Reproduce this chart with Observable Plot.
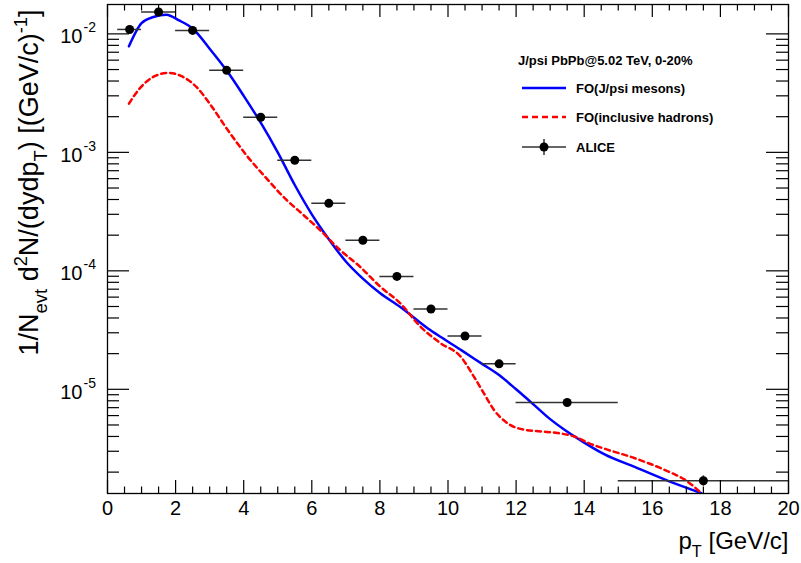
<!DOCTYPE html>
<html><head><meta charset="utf-8">
<script src="https://cdn.jsdelivr.net/npm/d3@7"></script>
<script src="https://cdn.jsdelivr.net/npm/@observablehq/plot@0.6"></script>
<style>body{margin:0;background:#fff} svg{display:block}</style>
</head><body><div id="chart"></div>
<script>
// ALICE J/psi data
const aliceX   = [0.65, 1.5, 2.5, 3.5, 4.5, 5.5, 6.5, 7.5, 8.5, 9.5, 10.5, 11.5, 13.5, 17.5];
const aliceXLo = [0.3, 1, 2, 3, 4, 5, 6, 7, 8, 9, 10, 11, 12, 15];
const aliceXHi = [1.0, 2, 3, 4, 5, 6, 7, 8, 9, 10, 11, 12, 15, 20];
const aliceY   = [0.0109, 0.0153, 0.0107, 0.00492, 0.00198, 8.57e-4, 3.71e-4, 1.81e-4, 8.97e-5, 4.76e-5, 2.82e-5, 1.64e-5, 7.74e-6, 1.69e-6];
const aliceYErr= [3e-4, 3e-4, 2e-4, 1e-4, 4e-5, 2e-5, 1e-5, 5e-6, 3e-6, 1.5e-6, 1e-6, 6e-7, 4e-7, 1.7e-7];

// FO (J/psi mesons)
const foJpsiX = [0.63, 1.0, 1.35, 1.73, 2.1, 2.5, 3.0, 3.5, 4.0, 4.5, 5.0, 5.5, 6.0, 6.5, 7.0, 7.5, 8.0, 8.6, 9.4, 9.8, 10.4, 11.0, 11.5, 12.0, 12.5, 13.0, 13.4, 14.0, 14.6, 15.5, 16.5, 17.44];
const foJpsiY = [7.85e-3, 1.23e-2, 1.387e-2, 1.452e-2, 1.30e-2, 1.11e-2, 7.5e-3, 4.9e-3, 3.0e-3, 1.78e-3, 1.0e-3, 5.3e-4, 3.0e-4, 1.85e-4, 1.2e-4, 8.6e-5, 6.5e-5, 4.95e-5, 3.28e-5, 2.75e-5, 2.13e-5, 1.64e-5, 1.32e-5, 1.0e-5, 7.5e-6, 5.6e-6, 4.6e-6, 3.55e-6, 2.82e-6, 2.2e-6, 1.67e-6, 1.33e-6];

// FO (inclusive hadrons)
const foHadX = [0.63, 0.94, 1.34, 1.78, 2.22, 2.61, 3.0, 3.5, 4.08, 4.67, 5.26, 5.65, 6.24, 6.83, 7.42, 8.01, 8.60, 9.19, 9.78, 10.37, 10.76, 11.05, 11.35, 11.74, 12.23, 12.72, 13.22, 13.71, 14.2, 14.6, 15.47, 16.46, 16.95, 17.44];
const foHadY = [2.58e-3, 3.45e-3, 4.33e-3, 4.68e-3, 4.33e-3, 3.57e-3, 2.58e-3, 1.59e-3, 9.46e-4, 6.03e-4, 3.96e-4, 3.15e-4, 2.21e-4, 1.5e-4, 1.08e-4, 7.35e-5, 5.32e-5, 3.38e-5, 2.45e-5, 1.89e-5, 1.28e-5, 9.3e-6, 6.7e-6, 5.19e-6, 4.56e-6, 4.41e-6, 4.27e-6, 4.0e-6, 3.45e-6, 3.15e-6, 2.63e-6, 2.03e-6, 1.73e-6, 1.33e-6];

// axis ticks
const xMajor = [0, 2, 4, 6, 8, 10, 12, 14, 16, 18, 20];
const xMinor = d3.range(0.5, 20, 0.5).filter(v => v % 2 !== 0);
const yMajor = [1e-5, 1e-4, 1e-3, 1e-2];
const yMinor = [-6, -5, -4, -3, -2].flatMap(e => [2,3,4,5,6,7,8,9].map(k => k * Math.pow(10, e))).filter(v => v > 1.32e-6 && v < 0.0177);

const legendHeader = "J/psi PbPb@5.02 TeV, 0-20%";
const legendLabels = ["FO(J/psi mesons)", "FO(inclusive hadrons)", "ALICE"];
const xTitle = "pT [GeV/c]";
const yTitle = "1/Nevt d2N/(dydpT) [(GeV/c)-1]";

const alice = aliceX.map((x, i) => ({x, xlo: aliceXLo[i], xhi: aliceXHi[i], y: aliceY[i], ylo: aliceY[i] - aliceYErr[i], yhi: aliceY[i] + aliceYErr[i]}));
const foJpsi = foJpsiX.map((x, i) => ({x, y: foJpsiY[i]}));
const foHad = foHadX.map((x, i) => ({x, y: foHadY[i]}));

const W = 801, H = 563, mL = 107, mR = 13, mT = 4, mB = 70;
const pw = W - mL - mR, ph = H - mT - mB;
const FONT = "'Liberation Sans', Arial, Helvetica, sans-serif";

const svg = Plot.plot({
  width: W, height: H,
  marginLeft: mL, marginRight: mR, marginTop: mT, marginBottom: mB,
  style: {fontFamily: FONT, background: "white", overflow: "visible", color: "black"},
  x: {type: "linear", domain: [0, 20], axis: null},
  y: {type: "log", domain: [1.32e-6, 0.0177], axis: null},
  marks: [
    Plot.line(foJpsi, {x: "x", y: "y", stroke: "#0000ff", strokeWidth: 2.5, curve: "monotone-x", clip: true}),
    Plot.line(foHad, {x: "x", y: "y", stroke: "#ff0000", strokeWidth: 2.5, strokeDasharray: "5,4", curve: "monotone-x", clip: true}),
    Plot.ruleY(alice, {y: "y", x1: "xlo", x2: "xhi", stroke: "#333", strokeWidth: 1.5}),
    Plot.ruleX(alice, {x: "x", y1: "ylo", y2: "yhi", stroke: "#333", strokeWidth: 1.5}),
    Plot.dot(alice, {x: "x", y: "y", r: 4.5, fill: "black"}),
    Plot.tickX(xMajor, {x: d => d, insetTop: ph - 13, stroke: "black", strokeWidth: 1.2}),
    Plot.tickX(xMajor, {x: d => d, insetBottom: ph - 13, stroke: "black", strokeWidth: 1.2}),
    Plot.tickX(xMinor, {x: d => d, insetTop: ph - 6.5, stroke: "black", strokeWidth: 1.2}),
    Plot.tickX(xMinor, {x: d => d, insetBottom: ph - 6.5, stroke: "black", strokeWidth: 1.2}),
    Plot.tickY(yMajor, {y: d => d, insetRight: pw - 22, stroke: "black", strokeWidth: 1.2}),
    Plot.tickY(yMajor, {y: d => d, insetLeft: pw - 22, stroke: "black", strokeWidth: 1.2}),
    Plot.tickY(yMinor, {y: d => d, insetRight: pw - 12, stroke: "black", strokeWidth: 1.2}),
    Plot.tickY(yMinor, {y: d => d, insetLeft: pw - 12, stroke: "black", strokeWidth: 1.2}),
    Plot.frame({stroke: "black", strokeWidth: 1.3}),
    Plot.text(xMajor, {x: d => d, text: d => String(d), frameAnchor: "bottom", lineAnchor: "top", dy: 7, fontSize: 20, fill: "black"}),
    Plot.text(yMajor, {y: d => d, text: () => "10", frameAnchor: "left", textAnchor: "end", dx: -25, dy: 3, fontSize: 20, fill: "black"}),
    Plot.text(yMajor, {y: d => d, text: d => String(Math.round(Math.log10(d))), frameAnchor: "left", textAnchor: "start", dx: -24, dy: -6, fontSize: 14, fill: "black"}),
    Plot.text([xTitle], {frameAnchor: "bottom-right", textAnchor: "end", lineAnchor: "middle", dy: 48, fontSize: 24, fill: "black"}),
    Plot.text([yTitle], {frameAnchor: "top-left", rotate: -90, textAnchor: "end", lineAnchor: "middle", dx: -78, dy: 5, fontSize: 27, fill: "black"})
  ]
});

const NS = "http://www.w3.org/2000/svg";
function rich(el, parts, fs) {
  el.textContent = "";
  el.style.whiteSpace = "pre";
  let cur = 0;
  for (const [s, kind] of parts) {
    const off = kind === "sub" ? 0.32 * fs : kind === "sup" ? -0.42 * fs : 0;
    const t = document.createElementNS(NS, "tspan");
    t.setAttribute("dy", off - cur);
    cur = off;
    if (kind) t.setAttribute("font-size", 0.68 * fs);
    t.textContent = s;
    el.appendChild(t);
  }
}
d3.select(svg).selectAll("text").each(function() {
  if (this.textContent === xTitle) rich(this, [["p", 0], ["T", "sub"], [" [GeV/c]", 0]], 24);
  else if (this.textContent === yTitle) rich(this, [["1/N", 0], ["evt", "sub"], [" d", 0], ["2", "sup"], ["N/(dydp", 0], ["T", "sub"], [") [(GeV/c)", 0], ["-1", "sup"], ["]", 0]], 27);
});

// legend
const lg = d3.select(svg).append("g").attr("font-family", FONT).attr("font-weight", "bold").attr("font-size", 13).attr("fill", "black").attr("text-anchor", "start");
lg.append("text").attr("x", 518).attr("y", 64.5).text(legendHeader);
const rows = [88, 117, 147];
lg.append("line").attr("x1", 522).attr("x2", 566).attr("y1", rows[0]).attr("y2", rows[0]).attr("stroke", "#0000ff").attr("stroke-width", 2.5);
lg.append("line").attr("x1", 522).attr("x2", 566).attr("y1", rows[1]).attr("y2", rows[1]).attr("stroke", "#ff0000").attr("stroke-width", 2.5).attr("stroke-dasharray", "6,4");
lg.append("line").attr("x1", 522).attr("x2", 566).attr("y1", rows[2]).attr("y2", rows[2]).attr("stroke", "#333").attr("stroke-width", 1.5);
lg.append("line").attr("x1", 544).attr("x2", 544).attr("y1", rows[2] - 8).attr("y2", rows[2] + 8).attr("stroke", "#333").attr("stroke-width", 1.5);
lg.append("circle").attr("cx", 544).attr("cy", rows[2]).attr("r", 4.5).attr("fill", "black");
legendLabels.forEach((s, i) => lg.append("text").attr("x", 576).attr("y", rows[i] + 4.5).text(s));

document.getElementById("chart").appendChild(svg);
</script>
</body></html>
